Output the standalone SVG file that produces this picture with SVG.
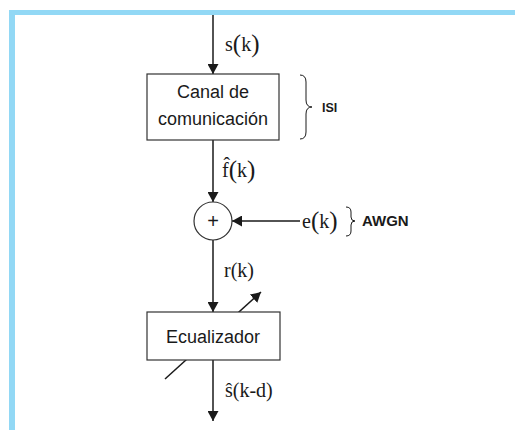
<svg xmlns="http://www.w3.org/2000/svg" width="515" height="430" viewBox="0 0 515 430">
<style>
.ln{stroke:#1a1a1a;stroke-width:1.5;fill:none}
.box{fill:#fff;stroke:#333;stroke-width:1.2}
.sans{font-family:"Liberation Sans",Arial,sans-serif;fill:#1a1a1a}
.math{font-family:"Liberation Serif","Times New Roman",serif;font-size:20px;fill:#1a1a1a}
.big{font-size:25px}
.lbl{font-family:"Liberation Sans",Arial,sans-serif;font-weight:bold;fill:#1a1a1a}
.brace{stroke:#1a1a1a;stroke-width:1;fill:none}
</style>
<defs>
<marker id="ah" markerWidth="10" markerHeight="11" refX="10" refY="5.5" orient="auto" markerUnits="userSpaceOnUse">
<path d="M0,0 L10,5.5 L0,11 Z" fill="#1a1a1a"/>
</marker>
</defs>
<rect x="0" y="0" width="515" height="430" fill="#fff"/>
<rect x="9" y="10" width="506" height="5" fill="#92d8f5"/>
<rect x="9" y="10" width="6" height="420" fill="#92d8f5"/>
<g id="connectors">
<line class="ln" x1="213" y1="15" x2="213" y2="74" marker-end="url(#ah)"/>
<line class="ln" x1="213" y1="140" x2="213" y2="202" marker-end="url(#ah)"/>
<line class="ln" x1="300" y1="221" x2="232" y2="221" marker-end="url(#ah)"/>
<line class="ln" x1="213" y1="240" x2="213" y2="312" marker-end="url(#ah)"/>
<line class="ln" x1="213" y1="360" x2="213" y2="421" marker-end="url(#ah)"/>
<line class="ln" x1="165" y1="379" x2="261" y2="292" marker-end="url(#ah)"/>
</g>
<g id="canal">
<rect class="box" x="147" y="74" width="132" height="66"/>
<text class="sans" x="213" y="98" style="font-size:18px" text-anchor="middle">Canal de</text>
<text class="sans" x="213" y="125" style="font-size:18px" text-anchor="middle">comunicación</text>
</g>
<g id="isi">
<path class="brace" d="M300,75 Q306,75 306,82 L306,100 Q306,107 312,107 Q306,107 306,114 L306,132 Q306,139 300,139"/>
<text class="lbl" x="322" y="112" style="font-size:12.5px">ISI</text>
</g>
<g id="sumador">
<circle cx="213" cy="221" r="19" fill="#fff" stroke="#333" stroke-width="1.2"/>
<text class="sans" x="213" y="228" style="font-size:20px" text-anchor="middle">+</text>
</g>
<g id="awgn">
<text class="math" x="302" y="228">e<tspan class="big" dy="1">(</tspan><tspan dy="-1">k</tspan><tspan class="big" dy="1">)</tspan></text>
<path class="brace" d="M346,207 Q351,207 351,212 L351,217 Q351,221 355,221 Q351,221 351,225 L351,231 Q351,236 346,236"/>
<text class="lbl" x="362" y="226" style="font-size:15px">AWGN</text>
</g>
<g id="ecualizador">
<rect class="box" x="147" y="312" width="133" height="48"/>
<text class="sans" x="213" y="343" style="font-size:18px" text-anchor="middle">Ecualizador</text>
</g>
<g id="labels">
<text class="math" x="225" y="51">s<tspan class="big" dy="1">(</tspan><tspan dy="-1">k</tspan><tspan class="big" dy="1">)</tspan></text>
<text class="math" x="222" y="177">f̂<tspan class="big" dy="1">(</tspan><tspan dy="-1">k</tspan><tspan class="big" dy="1">)</tspan></text>
<text class="math" x="224" y="277">r(k)</text>
<text class="math" x="225" y="397">ŝ(k-d)</text>
</g>
</svg>
